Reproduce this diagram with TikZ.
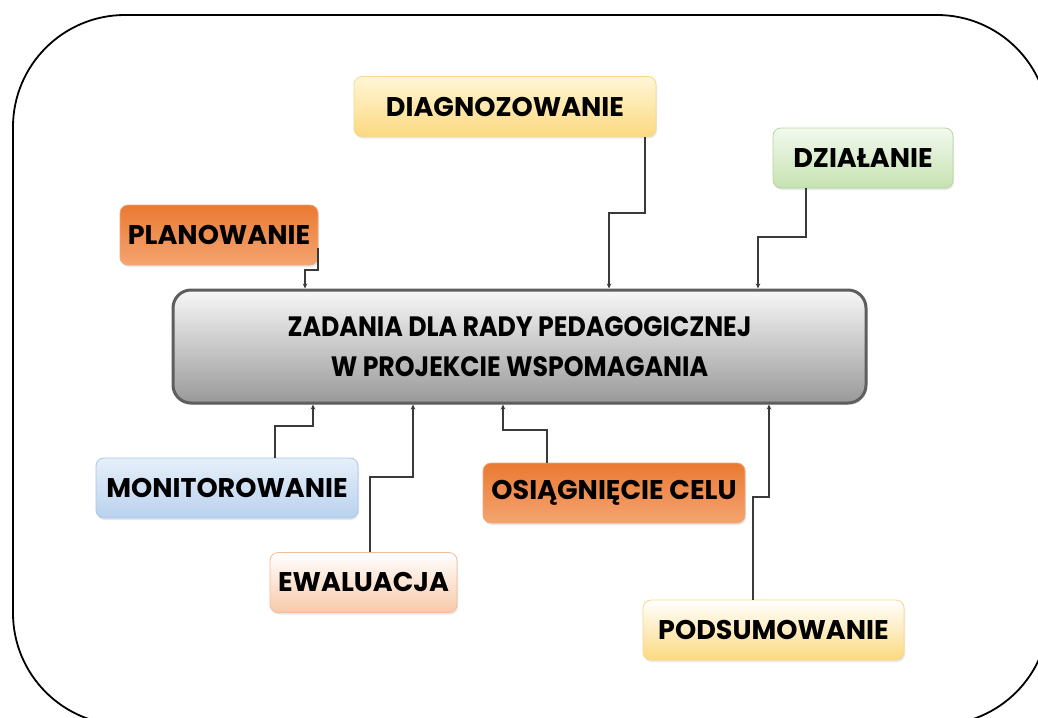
\documentclass[tikz,border=0pt]{standalone}
\usepackage{fontspec}
\setmainfont{Poppins}
\newfontfamily\condfont[FakeStretch=0.9]{Poppins}
\usetikzlibrary{arrows.meta,shadows}
\definecolor{orTop}{HTML}{EA7A33}
\definecolor{orBot}{HTML}{F4A470}
\definecolor{orBrd}{HTML}{F0A878}
\definecolor{yeTop}{HTML}{FFF6D6}
\definecolor{yeBot}{HTML}{FCD980}
\definecolor{yeBrd}{HTML}{F6D88A}
\definecolor{grTop}{HTML}{F3F9EE}
\definecolor{grBot}{HTML}{C6E2B1}
\definecolor{grBrd}{HTML}{B5D69E}
\definecolor{blTop}{HTML}{E6EFF9}
\definecolor{blBot}{HTML}{B9D2EE}
\definecolor{blBrd}{HTML}{A8C6E8}
\definecolor{peTop}{HTML}{FFFFFF}
\definecolor{peBot}{HTML}{F8C9A9}
\definecolor{peBrd}{HTML}{F4BC96}
\definecolor{mainBrd}{HTML}{5E5E5E}
\definecolor{connCol}{HTML}{3A3A3A}
\tikzset{
  box/.style={rounded corners=8pt, line width=0.8pt, minimum height=60pt,
    font=\fontsize{27}{30}\selectfont\bfseries, text=black, inner sep=0pt,
    drop shadow={opacity=0.18, shadow xshift=1pt, shadow yshift=-2pt}},
  orangebox/.style={box, draw=orBrd, top color=orTop, bottom color=orBot},
  yellowbox/.style={box, draw=yeBrd, top color=yeTop, bottom color=yeBot},
  whiteyellowbox/.style={box, draw=yeBrd, top color=white, bottom color=yeBot},
  greenbox/.style={box, draw=grBrd, top color=grTop, bottom color=grBot},
  bluebox/.style={box, draw=blBrd, top color=blTop, bottom color=blBot},
  peachbox/.style={box, draw=peBrd, top color=peTop, bottom color=peBot},
  mainbox/.style={rounded corners=18pt, line width=3pt, draw=mainBrd,
    top color=white!97!black, bottom color=black!40, align=center,
    minimum width=693pt, minimum height=113pt, inner sep=0pt,
    font=\fontsize{28}{40}\condfont\bfseries,
    drop shadow={opacity=0.2, shadow xshift=1pt, shadow yshift=-2pt}},
  conn/.style={draw=connCol, line width=1.3pt, -{Stealth[length=5pt,width=4.5pt]}},
  frame/.style={draw=black, line width=1.8pt}
}
\begin{document}
\begin{tikzpicture}[x=1pt,y=-1pt]
\useasboundingbox (0,0) rectangle (1038,717);
\begin{scope}
\clip (0,0) rectangle (1038,717);
\draw[frame, rounded corners=112pt] (13,15) rectangle (1049,725);
\end{scope}

\node[mainbox] (main) at (519.5,346.5) {ZADANIA DLA RADY PEDAGOGICZNEJ\\W PROJEKCIE WSPOMAGANIA};

\node[yellowbox, minimum width=302pt] (diag) at (505,106.5) {DIAGNOZOWANIE};
\node[greenbox, minimum width=180pt] (dzial) at (863,158) {DZIAŁANIE};
\node[orangebox, minimum width=198pt] (plan) at (219,235) {PLANOWANIE};
\node[bluebox, minimum width=262pt] (mon) at (227,488) {MONITOROWANIE};
\node[peachbox, minimum width=187pt] (ewal) at (363.5,582.5) {EWALUACJA};
\node[orangebox, minimum width=262pt] (osi) at (614,493) {OSIĄGNIĘCIE CELU};
\node[whiteyellowbox, minimum width=261pt] (pods) at (773.5,630) {PODSUMOWANIE};

\coordinate (bPlan) at (305,270);
\coordinate (bDiag) at (609,213);
\coordinate (bDzial) at (758,237);
\coordinate (bMon) at (313,426);
\coordinate (bEwal) at (413,477);
\coordinate (bOsi) at (503,430);
\coordinate (bPods) at (769,497);

\draw[conn] ([xshift=99pt,yshift=-13pt]plan.center) |- (bPlan) -- (bPlan |- main.north);
\draw[conn] ([xshift=140pt]diag.south) |- (bDiag) -- (bDiag |- main.north);
\draw[conn] ([xshift=-57pt]dzial.south) |- (bDzial) -- (bDzial |- main.north);
\draw[conn] ([xshift=48pt]mon.north) |- (bMon) -- (bMon |- main.south);
\draw[conn] ([xshift=6.5pt]ewal.north) |- (bEwal) -- (bEwal |- main.south);
\draw[conn] ([xshift=-67pt]osi.north) |- (bOsi) -- (bOsi |- main.south);
\draw[conn] ([xshift=-20.5pt]pods.north) |- (bPods) -- (bPods |- main.south);
\end{tikzpicture}
\end{document}
